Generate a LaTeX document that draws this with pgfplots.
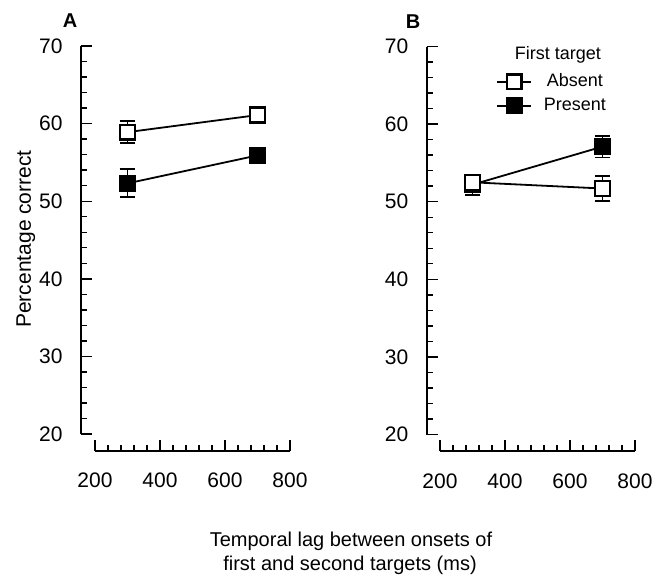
\documentclass[border=0pt]{standalone}
\usepackage{fontspec}
\setmainfont{Liberation Sans}
\usepackage{pgfplots}
\pgfplotsset{compat=1.18}

\pgfplotsset{
  panel/.style={
    scale only axis, width=97.5pt, height=194pt,
    xmin=200, xmax=800, ymin=20, ymax=70,
    axis lines=left, axis line style={-, line width=1pt},
    axis x line shift=8.3pt, axis y line shift=7pt,
    xtick={200,400,600,800}, minor x tick num=4,
    ytick={20,30,...,70}, minor y tick num=4,
    tick align=inside, major tick length=5.5pt, minor tick length=3pt,
    tick style={black, line width=0.7pt},
    /pgf/number format/assume math mode=true,
    ticklabel style={font=\fontsize{10.5}{12}\selectfont, inner sep=0pt},
    xticklabel style={anchor=north, yshift=-11pt},
    yticklabel style={anchor=east, xshift=-9pt},
    clip=false,
  },
  absent/.style={black, line width=0.9pt, mark=square*, mark size=3.7pt,
    mark options={solid, fill=white, line width=1.2pt},
    error bars/.cd, y dir=both, y explicit,
    error mark options={rotate=90, mark size=3.9pt, line width=0.9pt}},
  present/.style={black, line width=0.9pt, mark=square*, mark size=3.7pt,
    mark options={solid, fill=black, line width=1.2pt},
    error bars/.cd, y dir=both, y explicit,
    error mark options={rotate=90, mark size=3.9pt, line width=0.9pt}},
}

\begin{document}
\begin{tikzpicture}
\path[use as bounding box] (0,0) rectangle (330.5pt,-289pt);

% panel A
\begin{axis}[panel, at={(47.5pt,-217pt)}, anchor=south west]
\addplot[absent] table[y error=ey] {
x y ey
300 58.9 1.45
700 61.1 0.5
};
\addplot[present] table[y error=ey] {
x y ey
300 52.3 1.8
700 55.9 0.5
};
\end{axis}

% panel B
\begin{axis}[panel, at={(220pt,-217.25pt)}, anchor=south west,
  axis y line shift=6.7pt,
  reverse legend,
  legend style={at={(axis description cs:0.287,0.878)}, anchor=west,
    draw=none, fill=none, inner sep=0pt, row sep=3pt,
    font=\fontsize{9}{11}\selectfont,
    nodes={inner sep=0pt, text height=7pt, text depth=2pt},
    /tikz/every odd column/.append style={column sep=5.8pt}},
  legend image code/.code={\draw[mark repeat=2, mark phase=2, #1]
    plot coordinates {(0pt,0pt) (8.5pt,0pt) (17pt,0pt)};},
]
\addplot[present] table[y error=ey] {
x y ey
300 52.2 1.3
700 57.1 1.4
};
\addlegendentry{Present}
\addplot[absent] table[y error=ey] {
x y ey
300 52.5 0.4
700 51.7 1.65
};
\addlegendentry{Absent}
\end{axis}

\node[font=\fontsize{9}{11}\selectfont, anchor=base] at (279pt,-30pt) {First target};
\node[font=\fontsize{10}{12}\selectfont\bfseries] at (35pt,-10.5pt) {A};
\node[font=\fontsize{10}{12}\selectfont\bfseries] at (206.5pt,-11pt) {B};
\node[font=\fontsize{10.5}{12}\selectfont, rotate=90, anchor=base] at (15.5pt,-119.5pt) {Percentage correct};
\node[font=\fontsize{10}{12}\selectfont, anchor=base] at (175.5pt,-273.5pt) {Temporal lag between onsets of};
\node[font=\fontsize{10}{12}\selectfont, anchor=base] at (175pt,-285.5pt) {first and second targets (ms)};
\end{tikzpicture}
\end{document}
